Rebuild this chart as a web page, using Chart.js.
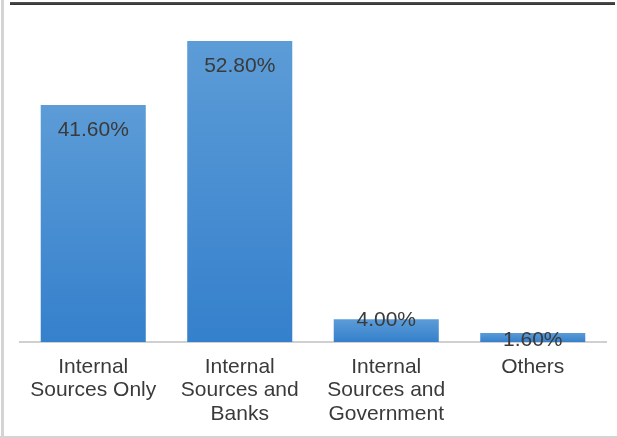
<!DOCTYPE html>
<html>
<head>
<meta charset="utf-8">
<script src="https://cdn.jsdelivr.net/npm/chart.js@4/dist/chart.umd.min.js"></script>
<style>
  html, body { margin: 0; padding: 0; background: #fff; }
  #wrap { width: 617px; height: 438px; position: relative; }
</style>
</head>
<body>
<div id="wrap"><canvas id="fundingChart"></canvas></div>
<script>
// sources of funding, share of respondents (%)
const categories = [
    ['Internal', 'Sources Only'],
    ['Internal', 'Sources and', 'Banks'],
    ['Internal', 'Sources and', 'Government'],
    ['Others']
];
const shares = [41.6, 52.8, 4.0, 1.6];

const textColor = '#3a3a3a';
const fontFamily = '"Liberation Sans", Arial, sans-serif';

// frame around the chart: grey left/bottom edges, dark rule on top
const framePlugin = {
    id: 'frame',
    beforeDraw(chart) {
        const c = chart.ctx;
        c.save();
        c.fillStyle = '#fff';
        c.fillRect(0, 0, chart.width, chart.height);
        c.fillStyle = '#d4d4d4';
        c.fillRect(1, 0, 3, chart.height);
        c.fillRect(0, chart.height - 2, chart.width, 2);
        const g = c.createLinearGradient(0, 2, 0, 6);
        g.addColorStop(0, '#555');
        g.addColorStop(1, '#222');
        c.fillStyle = g;
        c.fillRect(10, 2, chart.width - 12, 3);
        c.restore();
    }
};

// percentage labels inside the top of each bar
const valueLabels = {
    id: 'valueLabels',
    afterDatasetsDraw(chart) {
        const c = chart.ctx;
        const meta = chart.getDatasetMeta(0);
        c.save();
        c.font = '21px ' + fontFamily;
        c.fillStyle = textColor;
        c.textAlign = 'center';
        c.textBaseline = 'middle';
        meta.data.forEach((bar, i) => {
            const h = bar.base - bar.y;
            let y;
            if (h > 40) y = bar.y + 25;
            else if (h > 15) y = bar.y + 1;
            else y = bar.y + 7;
            c.fillText(shares[i].toFixed(2) + '%', bar.x, y);
        });
        c.restore();
    }
};

const ctx = document.getElementById('fundingChart').getContext('2d');
const fundingChart = new Chart(ctx, {
    type: 'bar',
    data: {
        labels: categories,
        datasets: [{
            data: shares,
            backgroundColor: function (context) {
                const chart = context.chart;
                if (!chart.chartArea) return '#4a8fd2';
                const y = chart.scales.y;
                const top = y.getPixelForValue(context.raw);
                const base = y.getPixelForValue(0);
                const g = chart.ctx.createLinearGradient(0, top, 0, base);
                g.addColorStop(0, '#5c9cd7');
                g.addColorStop(1, '#3580cc');
                return g;
            },
            borderWidth: 0,
            categoryPercentage: 1,
            barPercentage: 0.717
        }]
    },
    options: {
        responsive: true,
        maintainAspectRatio: false,
        animation: false,
        layout: { padding: { left: 20, right: 11, top: 0, bottom: 0 } },
        plugins: {
            legend: { display: false },
            tooltip: { enabled: false }
        },
        scales: {
            x: {
                grid: { display: false, drawTicks: false },
                border: { display: true, color: '#d0d0d0', width: 2 },
                ticks: {
                    color: textColor,
                    font: { family: fontFamily, size: 21, lineHeight: 1.1 },
                    padding: 14,
                    maxRotation: 0,
                    autoSkip: false
                },
                afterFit: function (scale) { scale.height = 96; }
            },
            y: {
                display: false,
                min: 0,
                max: 60
            }
        }
    },
    plugins: [framePlugin, valueLabels]
});
</script>
</body>
</html>
